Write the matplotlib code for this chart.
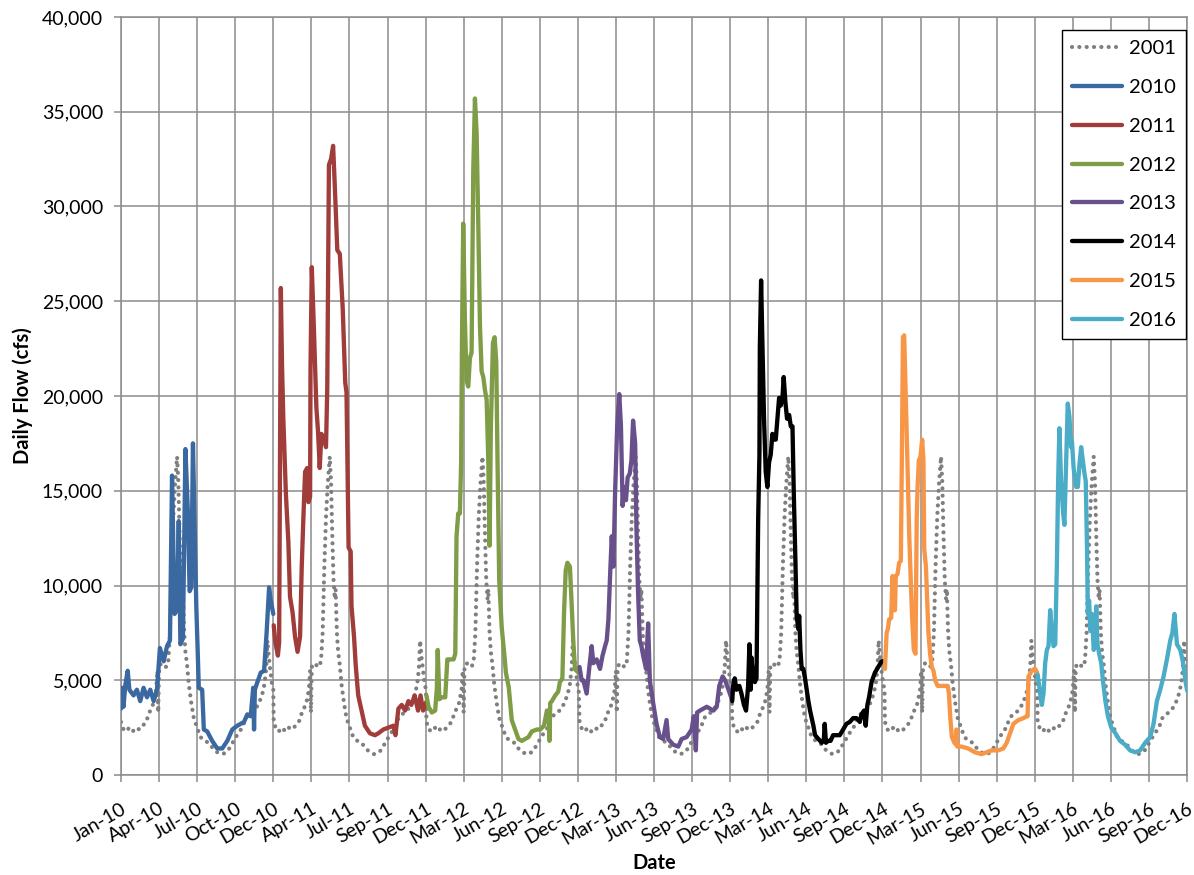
import numpy as np
import matplotlib
matplotlib.use("Agg")
import matplotlib.pyplot as plt
import matplotlib.dates as mdates
from matplotlib.ticker import FuncFormatter, MultipleLocator

plt.rcParams["font.family"] = ["Lato", "DejaVu Sans"]

# 2001 daily flow (day of year, cfs) - drawn under every year for comparison
d2001 = [0, 6, 12, 20, 28, 36, 44, 52, 60, 66, 72, 78, 84, 87, 89, 91, 96, 102, 108, 113,
         117, 121, 125, 129, 134, 137, 140, 143, 146, 148, 151, 154, 158, 162, 168, 174, 182, 190, 200, 210,
         220, 230, 240, 248, 256, 264, 272, 280, 290, 298, 306, 314, 322, 330, 338, 343, 347, 350, 353, 357,
         361, 364]
q2001 = [2800, 2400, 2300, 2500, 2300, 2500, 2400, 2600, 2800, 3200, 3500, 3800, 4500, 5500, 3300, 5700, 5900, 5800, 5700, 6000,
         7500, 11000, 13600, 15300, 16800, 15500, 12700, 10300, 9300, 9800, 7500, 6500, 5800, 4800, 3800, 3000, 2500, 2000, 1800, 1700,
         1400, 1200, 1100, 1150, 1300, 1600, 1900, 2200, 2500, 3000, 3200, 3300, 3500, 3800, 4300, 4800, 5600, 7100, 6300, 5500,
         4800, 4500]

d2010 = [0, 3, 6, 10, 16, 20, 30, 38, 46, 54, 62, 70, 78, 86, 93, 102, 110, 117, 122, 128,
         134, 138, 142, 148, 154, 160, 164, 168, 172, 177, 180, 186, 194, 198, 206, 218, 230, 242, 254, 266,
         278, 294, 302, 310, 316, 318, 320, 326, 334, 342, 348, 354, 358, 364]
q2010 = [3500, 4600, 3600, 4700, 5500, 4500, 4200, 4500, 3900, 4600, 4100, 4500, 3900, 4500, 6700, 6000, 6800, 7100, 15800, 8500,
         8700, 13400, 6900, 7200, 17200, 13800, 9700, 9900, 17500, 12000, 8900, 4600, 4500, 2400, 2300, 1800, 1400, 1400, 1800, 2400,
         2600, 2800, 3200, 3100, 4600, 2400, 4500, 4900, 5400, 5500, 7500, 9900, 9200, 8500]

d2011 = [0, 4, 10, 13, 17, 20, 23, 29, 35, 39, 45, 51, 57, 63, 67, 71, 75, 80, 83, 87,
         88, 91, 96, 102, 106, 110, 114, 120, 125, 128, 132, 137, 142, 146, 152, 158, 165, 171, 174, 179,
         184, 186, 192, 196, 202, 210, 218, 230, 242, 250, 262, 274, 286, 291, 298, 306, 314, 322, 329, 337,
         345, 351, 357, 364]
q2011 = [7900, 7000, 6300, 7000, 25700, 21500, 18800, 14900, 12300, 9400, 8600, 7300, 6500, 7300, 11000, 13600, 16000, 16200, 14400, 14700,
         21500, 26800, 23600, 19400, 18100, 16200, 18000, 17800, 17300, 20400, 32200, 32500, 33200, 31100, 27700, 27500, 24600, 20700, 20200, 12000,
         11800, 8900, 7300, 5800, 4200, 3400, 2600, 2200, 2100, 2200, 2400, 2500, 2600, 2100, 3500, 3700, 3400, 3900, 3700, 4200,
         3400, 4200, 3400, 3800]

d2012 = [0, 5, 13, 21, 25, 27, 31, 37, 45, 50, 57, 65, 69, 72, 76, 80, 83, 85, 88, 92,
         96, 100, 104, 108, 112, 116, 120, 124, 128, 132, 136, 140, 144, 148, 151, 154, 159, 163, 167, 170,
         174, 180, 186, 190, 197, 204, 212, 220, 228, 236, 244, 252, 264, 272, 281, 288, 292, 294, 296, 300,
         308, 315, 319, 325, 329, 333, 337, 343, 347, 351, 355, 363]
q2012 = [4200, 3600, 3300, 3400, 4600, 6600, 4000, 4100, 4100, 6100, 6100, 6100, 6400, 12600, 13800, 13800, 16500, 22800, 29100, 24000,
         20800, 20500, 22000, 22300, 31900, 35700, 33900, 29000, 23700, 21300, 21000, 20300, 19800, 16500, 12100, 18300, 22800, 23100, 21800, 16500,
         10300, 7800, 6400, 5400, 4600, 2900, 2400, 1900, 1800, 1900, 2000, 2300, 2400, 2400, 2600, 3400, 3400, 1800, 3800, 3900,
         4200, 4400, 4900, 5100, 8600, 10800, 11200, 11000, 9100, 7100, 5600, 5400]

d2013 = [0, 5, 9, 17, 23, 29, 33, 41, 49, 55, 61, 65, 69, 73, 77, 81, 85, 90, 95, 99,
         103, 106, 111, 115, 120, 124, 128, 133, 136, 140, 144, 148, 152, 159, 164, 168, 176, 184, 192, 200,
         208, 212, 224, 236, 244, 256, 268, 273, 278, 281, 288, 304, 320, 328, 334, 342, 348, 356, 364]
q2013 = [5700, 5000, 5000, 4300, 5600, 6800, 5900, 6100, 5600, 6300, 6800, 7100, 8200, 10500, 12600, 11000, 14900, 18400, 20100, 18400,
         14200, 15200, 14500, 15700, 15900, 16600, 18700, 17500, 13100, 9600, 7100, 6800, 6300, 5600, 8000, 5000, 3800, 2700, 2000, 1900,
         2900, 1900, 1600, 1500, 1900, 2000, 2400, 3100, 1300, 3300, 3400, 3600, 3400, 3600, 4700, 5200, 5000, 4500, 4000]

d2014 = [0, 2, 6, 10, 17, 22, 28, 33, 38, 41, 44, 46, 50, 54, 58, 60, 62, 65, 66, 69,
         72, 76, 80, 84, 88, 92, 96, 100, 104, 108, 112, 116, 120, 123, 127, 131, 136, 140, 144, 147,
         151, 154, 158, 160, 163, 166, 170, 174, 178, 182, 186, 190, 194, 198, 206, 214, 219, 221, 224, 229,
         235, 241, 249, 257, 265, 273, 281, 289, 297, 305, 309, 315, 319, 323, 327, 333, 341, 349, 357, 364]
q2014 = [3900, 4700, 5100, 4500, 4700, 4300, 3700, 3400, 4700, 6900, 4500, 6200, 5100, 4900, 5100, 9400, 13500, 16900, 22600, 26100,
         22900, 18800, 16000, 15200, 16500, 16900, 18000, 17700, 17700, 18800, 19900, 19500, 19900, 21000, 19700, 18800, 19000, 18400, 18400, 15000,
         11300, 8400, 7700, 8400, 6600, 5600, 5600, 5100, 4500, 3900, 3400, 3000, 2600, 2100, 1900, 1700, 1900, 2700, 1700, 1800,
         1800, 2100, 2100, 2100, 2400, 2700, 2800, 3000, 3000, 2800, 3200, 3400, 2600, 3700, 4100, 4900, 5400, 5700, 6000, 6000]

d2015 = [0, 4, 7, 10, 15, 18, 21, 24, 26, 30, 34, 38, 41, 43, 46, 50, 54, 58, 62, 65,
         69, 73, 76, 78, 81, 85, 89, 92, 94, 98, 101, 104, 108, 112, 116, 120, 126, 136, 144, 150,
         153, 156, 160, 166, 170, 171, 173, 183, 199, 215, 231, 243, 255, 271, 283, 291, 299, 307, 319, 331,
         339, 341, 343, 351, 359, 364]
q2015 = [5600, 7500, 7700, 8200, 8300, 10500, 8700, 8700, 10500, 10600, 11200, 11300, 18000, 23100, 23200, 19800, 16300, 12700, 10100, 8300,
         6600, 6400, 13600, 15200, 16600, 16800, 17700, 16600, 11900, 11000, 9200, 7500, 6400, 5700, 5500, 5000, 4700, 4700, 4700, 4700,
         4300, 3100, 2000, 1700, 1600, 2400, 1500, 1500, 1400, 1200, 1100, 1200, 1300, 1300, 1400, 1700, 2200, 2700, 2900, 3000,
         3100, 3100, 5200, 5500, 5600, 5400]

d2016 = [0, 2, 6, 10, 14, 18, 22, 26, 30, 34, 38, 42, 46, 49, 52, 56, 61, 64, 68, 72,
         76, 80, 82, 86, 92, 96, 100, 104, 108, 112, 115, 118, 120, 123, 126, 130, 134, 138, 140, 143,
         147, 152, 156, 162, 168, 176, 186, 197, 209, 221, 233, 245, 257, 269, 277, 285, 293, 301, 309, 317,
         322, 327, 333, 341, 347, 353, 357, 365]
q2016 = [5300, 5000, 4300, 3700, 4300, 5900, 6600, 6800, 8700, 7600, 6800, 6900, 11100, 15500, 18300, 15500, 13800, 13200, 16400, 19600,
         18900, 17300, 17600, 16200, 15200, 15200, 16400, 17300, 16600, 15900, 15500, 12000, 8500, 9200, 7600, 8500, 6600, 6900, 8900, 6900,
         6400, 5900, 5000, 3900, 3100, 2500, 2200, 1800, 1600, 1300, 1200, 1300, 1700, 2000, 2700, 3900, 4500, 5200, 6100, 7100,
         7500, 8500, 6900, 6600, 6000, 5000, 4500, 4000]

years = [2010, 2011, 2012, 2013, 2014, 2015, 2016]
series = {
    2010: (d2010, q2010, "#3A68A0"),
    2011: (d2011, q2011, "#A03C39"),
    2012: (d2012, q2012, "#7F9C46"),
    2013: (d2013, q2013, "#67508B"),
    2014: (d2014, q2014, "#000000"),
    2015: (d2015, q2015, "#F79646"),
    2016: (d2016, q2016, "#4AACC6"),
}


def to_dates(year, days):
    return np.datetime64(f"{year}-01-01") + np.asarray(days).astype("timedelta64[D]")


grid_gray = "#8C8C8C"

fig = plt.figure(figsize=(11.94, 8.75), dpi=100)
ax = fig.add_axes([121 / 1194, 1 - 775 / 875, 1066 / 1194, 758 / 875])

# 2001 laid under each year as one continuous dotted line
ref_x = np.concatenate([to_dates(y, d2001) for y in years])
ref_y = np.concatenate([q2001 for _ in years])
ax.plot(ref_x, ref_y, color="#7F7F7F", lw=3.0, linestyle=(0, (0.01, 1.75)),
        dash_capstyle="round", label="2001", zorder=2)

for y in years:
    d, q, c = series[y]
    ax.plot(to_dates(y, d), q, color=c, lw=3.1, solid_joinstyle="round",
            solid_capstyle="round", label=str(y), zorder=3)

# date axis: one tick every 91 days from Jan 1 2010
start = np.datetime64("2010-01-01")
ticks = start + np.arange(0, 2549, 91).astype("timedelta64[D]")
ax.set_xlim(mdates.date2num(start), mdates.date2num(ticks[-1]))
ax.set_xticks(mdates.date2num(ticks))
ax.xaxis.set_major_formatter(mdates.DateFormatter("%b-%y"))
ax.set_ylim(0, 40000)
ax.yaxis.set_major_locator(MultipleLocator(5000))
ax.yaxis.set_major_formatter(FuncFormatter(lambda v, p: f"{int(v):,}"))

ax.grid(True, color=grid_gray, lw=1.1)
ax.set_axisbelow(True)
for s in ax.spines.values():
    s.set_color(grid_gray)
    s.set_linewidth(1.1)

ax.tick_params(axis="both", colors=grid_gray, length=5, width=1.1, labelcolor="black",
               labelsize=14)
ax.tick_params(axis="y", pad=8)
ax.tick_params(axis="x", pad=13)
for lab in ax.get_xticklabels():
    lab.set_rotation(30)
    lab.set_ha("right")
    lab.set_va("top")
    lab.set_rotation_mode("anchor")

ax.set_ylabel("Daily Flow (cfs)", fontsize=14.5, fontweight="bold", labelpad=6)
ax.set_xlabel("Date", fontsize=14.5, fontweight="bold", labelpad=4)

leg = ax.legend(loc="upper right", bbox_to_anchor=(0.999, 0.983), borderaxespad=0,
                fontsize=14.5, frameon=True, fancybox=False, framealpha=1,
                edgecolor="black", handlelength=2.5, handletextpad=0.35,
                labelspacing=1.08, borderpad=0.5)
leg.get_frame().set_linewidth(1.0)

fig.savefig("out.png", dpi=100, facecolor="white")
